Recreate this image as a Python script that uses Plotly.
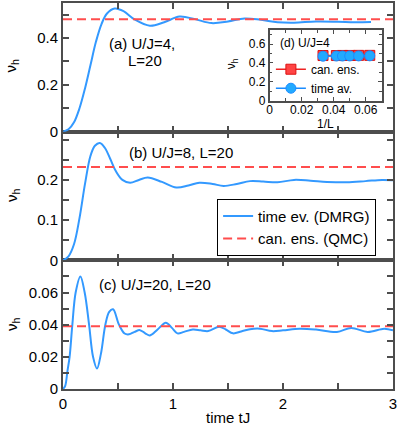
import plotly.graph_objects as go

# ---------------- data ----------------
# panel (a) U/J=4, L=20
t_a = [0, 0.05, 0.1, 0.15, 0.2, 0.25, 0.3, 0.35, 0.4, 0.47, 0.55, 0.65, 0.79, 0.92, 1.06,
       1.2, 1.35, 1.5, 1.65, 1.8, 1.95, 2.1, 2.3, 2.5, 2.65, 2.8]
v_a = [0, 0.01, 0.04, 0.1, 0.185, 0.285, 0.385, 0.46, 0.505, 0.526, 0.515, 0.48, 0.453, 0.468, 0.492,
       0.481, 0.464, 0.471, 0.484, 0.478, 0.468, 0.466, 0.471, 0.470, 0.468, 0.469]

# panel (b) U/J=8, L=20
t_b = [0, 0.05, 0.1, 0.15, 0.2, 0.25, 0.29, 0.335, 0.38, 0.43, 0.48, 0.54, 0.61, 0.69, 0.77, 0.9,
       1.03, 1.14, 1.24, 1.36, 1.46, 1.58, 1.7, 1.82, 1.95, 2.1, 2.25, 2.4, 2.58, 2.75, 2.9, 3.0]
v_b = [0, 0.01, 0.04, 0.105, 0.19, 0.26, 0.285, 0.292, 0.28, 0.252, 0.222, 0.2, 0.193, 0.2, 0.206, 0.195,
       0.181, 0.186, 0.193, 0.19, 0.185, 0.19, 0.197, 0.196, 0.194, 0.2, 0.198, 0.195, 0.194, 0.197, 0.2, 0.199]

# panel (c) U/J=20, L=20
t_c = [0, 0.02, 0.04, 0.06, 0.085, 0.115, 0.158, 0.197, 0.237, 0.273, 0.309, 0.345, 0.385, 0.42,
       0.455, 0.509, 0.56, 0.6, 0.65, 0.7, 0.75, 0.79, 0.86, 0.935, 0.99, 1.04, 1.1, 1.18, 1.25,
       1.32, 1.42, 1.48, 1.545, 1.62, 1.7, 1.79, 1.9, 2.0, 2.15, 2.3, 2.49, 2.62, 2.77, 2.92, 3.0]
v_c = [0, 0.002, 0.011, 0.02, 0.04, 0.06, 0.07, 0.06, 0.04, 0.02, 0.0127, 0.022, 0.04, 0.048,
       0.0496, 0.04, 0.0345, 0.034, 0.0355, 0.0366, 0.0345, 0.0333, 0.037, 0.0412, 0.038, 0.0346,
       0.0355, 0.037, 0.0365, 0.036, 0.0387, 0.037, 0.0346, 0.0358, 0.0372, 0.0375, 0.036, 0.0365,
       0.0375, 0.037, 0.0355, 0.038, 0.0355, 0.0375, 0.0365]

# canonical-ensemble (QMC) values for (a), (b), (c)
t_span = [0, 3]
qmc_a = 0.481
qmc_b = 0.232
qmc_c = 0.039

# inset (d) U/J=4
L_sizes = [30, 24, 22, 20, 18, 16]
can_ens = [0.479, 0.479, 0.480, 0.480, 0.481, 0.481]
time_av = [0.472, 0.474, 0.474, 0.475, 0.475, 0.476]
inv_L = [1.0 / L for L in L_sizes]

# ---------------- styling ----------------
BLUE = "#3399ff"
RED = "#ff4d4d"
FRAME = "#4d4d4d"
FONT = "Liberation Sans, Arial, Helvetica, sans-serif"

fig = go.Figure()

# main curves
panels = [("x3", "y3", t_a, v_a, qmc_a, False),
          ("x2", "y2", t_b, v_b, qmc_b, True),
          ("x", "y", t_c, v_c, qmc_c, False)]
for xa, ya, tt, vv, q, leg in panels:
    fig.add_trace(go.Scatter(x=tt, y=vv, xaxis=xa, yaxis=ya, mode="lines",
                             line=dict(color=BLUE, width=2, shape="spline", smoothing=1.0),
                             name="time ev. (DMRG)", showlegend=leg, legend="legend"))
for xa, ya, tt, vv, q, leg in panels:
    fig.add_trace(go.Scatter(x=t_span, y=[q, q], xaxis=xa, yaxis=ya, mode="lines",
                             line=dict(color=RED, width=2, dash="9px,5px"),
                             name="can. ens. (QMC)", showlegend=leg, legend="legend"))

# inset
fig.add_trace(go.Scatter(x=inv_L, y=can_ens, xaxis="x4", yaxis="y4", mode="lines+markers",
                         line=dict(color="#ee2222", width=1.5),
                         marker=dict(symbol="square", size=10, color="#ff4444",
                                     line=dict(color="#dd1111", width=1)),
                         name="can. ens.", legend="legend2"))
fig.add_trace(go.Scatter(x=inv_L, y=time_av, xaxis="x4", yaxis="y4", mode="lines+markers",
                         line=dict(color="#1a8cff", width=1.5),
                         marker=dict(symbol="circle", size=10, color="#22aaff",
                                     line=dict(color="#1a8cff", width=1)),
                         name="time av.", legend="legend2"))

axis_common = dict(showline=True, linecolor=FRAME, linewidth=2, mirror="allticks",
                   ticks="inside", ticklen=6, tickwidth=1.5, tickcolor=FRAME,
                   showgrid=False, zeroline=False,
                   tickfont=dict(family=FONT, size=15, color="black"))

xcommon = dict(axis_common, range=[0, 3], dtick=1, tick0=0,
               minor=dict(tickmode="linear", tick0=0, dtick=0.5, ticks="inside", ticklen=6,
                          tickcolor=FRAME, tickwidth=1.5))

inset_common = dict(showline=True, linecolor=FRAME, linewidth=1.5, mirror="allticks",
                    ticks="inside", ticklen=4, tickwidth=1, tickcolor=FRAME,
                    showgrid=False, zeroline=False,
                    tickfont=dict(family=FONT, size=12, color="black"))

fig.update_layout(
    width=399, height=425,
    margin=dict(l=63, r=6, t=1, b=36),
    paper_bgcolor="white", plot_bgcolor="white",
    font=dict(family=FONT, size=15, color="black"),
    xaxis=dict(xcommon, anchor="y", domain=[0, 1]),
    xaxis2=dict(xcommon, anchor="y2", matches="x", showticklabels=False),
    xaxis3=dict(xcommon, anchor="y3", matches="x", showticklabels=False),
    yaxis=dict(axis_common, anchor="x", domain=[0, 1 / 3], range=[0, 0.08],
               tickmode="array", tickvals=[0, 0.02, 0.04, 0.06],
               minor=dict(tickmode="linear", tick0=0, dtick=0.01, ticks="inside", ticklen=6,
                          tickcolor=FRAME, tickwidth=1.5)),
    yaxis2=dict(axis_common, anchor="x2", domain=[1 / 3, 2 / 3], range=[0, 0.32],
                tickmode="array", tickvals=[0, 0.1, 0.2],
                minor=dict(tickmode="linear", tick0=0, dtick=0.05, ticks="inside", ticklen=6,
                           tickcolor=FRAME, tickwidth=1.5)),
    yaxis3=dict(axis_common, anchor="x3", domain=[2 / 3, 1], range=[0, 0.55],
                tickmode="array", tickvals=[0, 0.2, 0.4],
                minor=dict(tickmode="linear", tick0=0, dtick=0.1, ticks="inside", ticklen=6,
                           tickcolor=FRAME, tickwidth=1.5)),
    xaxis4=dict(inset_common, anchor="y4", domain=[0.626, 0.966], range=[0, 0.07],
                tickmode="array", tickvals=[0, 0.02, 0.04, 0.06], ticklabelstandoff=-3,
                minor=dict(tickmode="linear", tick0=0, dtick=0.01, ticks="inside", ticklen=3,
                           tickcolor=FRAME)),
    yaxis4=dict(inset_common, anchor="x4", domain=[0.747, 0.930], range=[0, 0.75],
                tickmode="array", tickvals=[0, 0.2, 0.4, 0.6],
                minor=dict(tickmode="linear", tick0=0, dtick=0.1, ticks="inside", ticklen=3,
                           tickcolor=FRAME)),
    legend=dict(x=0.467, y=0.493, xanchor="left", yanchor="top",
                bgcolor="white", bordercolor="black", borderwidth=1,
                font=dict(family=FONT, size=15, color="black"), tracegroupgap=0),
    legend2=dict(x=0.63, y=0.866, xanchor="left", yanchor="top",
                 bgcolor="rgba(0,0,0,0)", borderwidth=0,
                 font=dict(family=FONT, size=12, color="black"), tracegroupgap=0),
)

ann = []
def txt(x, y, s, size=15, xanchor="center", angle=0):
    ann.append(dict(x=x, y=y, xref="paper", yref="paper", text=s, showarrow=False,
                    xanchor=xanchor, yanchor="middle", textangle=angle,
                    font=dict(family=FONT, size=size, color="black")))

txt(0.239, 0.894, "(a) U/J=4,")
txt(0.248, 0.851, "L=20")
txt(0.193, 0.613, "(b) U/J=8, L=20", xanchor="left")
txt(0.102, 0.272, "(c) U/J=20, L=20", xanchor="left")
txt(0.652, 0.897, "(d) U/J=4", size=12, xanchor="left")
for yc in [0.838, 0.502, 0.168]:
    txt(-0.155, yc, "ν<sub>h</sub>", size=15, angle=-90)
txt(0.511, 0.843, "ν<sub>h</sub>", size=12, angle=-90)
txt(0.794, 0.686, "1/L", size=12)
txt(0.5, -0.075, "time tJ", size=15)
fig.update_layout(annotations=ann)

fig.write_html("out.html", config={"displayModeBar": False},
               post_script="document.body.style.margin='0px';")
